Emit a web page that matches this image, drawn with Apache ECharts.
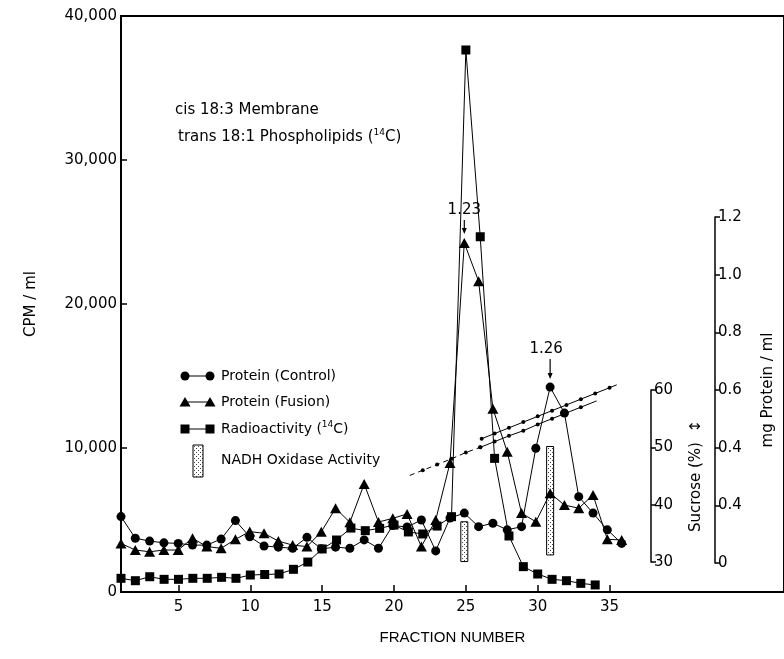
<!DOCTYPE html>
<html>
<head>
<meta charset="utf-8">
<script src="https://cdn.jsdelivr.net/npm/echarts@6/dist/echarts.min.js"></script>
<style>
  html, body { margin: 0; padding: 0; background: #fff; }
  #chart { width: 784px; height: 659px; }
</style>
</head>
<body>
<div id="chart"></div>
<script>
// Sucrose gradient fractionation: protein, radioactivity, sucrose and NADH oxidase
const fractions = [1,2,3,4,5,6,7,8,9,10,11,12,13,14,15,16,17,18,19,20,21,22,23,24,25,26,27,28,29,30,31,32,33,34,35,36];
// mg protein / ml
const proteinControl = [0.161,0.086,0.076,0.070,0.068,0.062,0.062,0.083,0.147,0.091,0.059,0.055,0.051,0.089,0.049,0.055,0.051,0.080,0.051,0.130,0.125,0.149,0.042,0.156,0.173,0.126,0.138,0.115,0.126,0.398,0.610,0.520,0.230,0.173,0.115,0.068];
const proteinFusion = [0.068,0.045,0.039,0.045,0.045,0.086,0.057,0.051,0.082,0.109,0.103,0.076,0.062,0.057,0.108,0.190,0.141,0.274,0.142,0.155,0.170,0.057,0.149,0.347,1.110,0.977,0.535,0.386,0.173,0.143,0.242,0.201,0.190,0.236,0.082,0.080];
// CPM / ml (14C)
const radioFractions = [1,2,3,4,5,6,7,8,9,10,11,12,13,14,15,16,17,18,19,20,21,22,23,24,25,26,27,28,29,30,31,32,33,34];
const radioactivity = [950,785,1060,880,880,950,950,1020,950,1180,1215,1250,1575,2080,2990,3610,4440,4260,4420,4650,4170,4030,4580,5230,37640,24670,9280,3890,1760,1250,880,785,600,490];
// Sucrose (%) gradients
const sucroseLowX = [21.1,22,23,24,25,26,27,28,29,30,31,32,33,34.1];
const sucroseLow = [45.1,46.0,47.0,48.0,49.1,50.0,51.0,52.0,52.9,54.0,55.0,56.0,57.0,58.1];
const sucroseHighX = [26.1,27,28,29,30,31,32,33,34,35,35.5];
const sucroseHigh = [51.5,52.4,53.4,54.4,55.4,56.4,57.4,58.4,59.4,60.4,60.9];
// NADH oxidase activity bands (drawn on the protein scale)
const nadhFractions = [25, 31];
const nadhLow = [0.005, 0.028];
const nadhHigh = [0.143, 0.404];
// Tick labels
const xTickValues = [5,10,15,20,25,30,35];
const cpmTickLabels = ['0','10,000','20,000','30,000','40,000'];
const proteinTickValues = [0,0.2,0.4,0.6,0.8,1.0,1.2];
const proteinTickLabels = ['0','0.4','0.4','0.6','0.8','1.0','1.2'];
const sucroseTickLabels = ['30','40','50','60'];

const FONT = 'DejaVu Sans';
const chart = echarts.init(document.getElementById('chart'), null, { renderer: 'canvas' });

function stipple() {
  const c = document.createElement('canvas');
  c.width = 4; c.height = 4;
  const g = c.getContext('2d');
  g.fillStyle = '#fff'; g.fillRect(0, 0, 4, 4);
  g.fillStyle = '#444';
  g.fillRect(0, 0, 1, 1); g.fillRect(2, 2, 1, 1);
  return c;
}
const stippleFill = { image: stipple(), repeat: 'repeat' };

const pairs = (xs, ys) => xs.map((x, i) => [x, ys[i]]);
const dotted = (xs, ys, start, end, noDot) => xs.slice(start, end).map((x, k) => {
  const i = start + k;
  return noDot.includes(i) ? { value: [x, ys[i]], symbol: 'none' } : [x, ys[i]];
});

// The frame runs off the right edge of the page, so the fraction axis ends past 47
const GRID_LEFT = 121, GRID_RIGHT_EDGE = 784;
const X_MIN = 1, X_MAX = 47.14;
const PROTEIN_AXIS_X = 718, SUCROSE_AXIS_X = 651;
const lineBase = { lineStyle: { color: '#000', width: 1 }, itemStyle: { color: '#000' }, z: 3, animation: false };

chart.setOption({
  animation: false,
  grid: [
    { left: GRID_LEFT, right: 0, top: 16, height: 576, show: true, borderColor: '#000', borderWidth: 2 },
    { left: GRID_LEFT, right: 0, top: 217, height: 346 },
    { left: GRID_LEFT, right: 0, top: 390, height: 172 }
  ],
  xAxis: [
    {
      gridIndex: 0, type: 'value', min: X_MIN, max: X_MAX,
      axisLine: { onZero: false, lineStyle: { color: '#000', width: 2 } },
      axisTick: { inside: true, length: 7, customValues: xTickValues, lineStyle: { color: '#000', width: 1.5 } },
      axisLabel: { customValues: xTickValues, margin: 8, color: '#000', fontSize: 15, fontFamily: FONT },
      splitLine: { show: false },
      name: 'FRACTION NUMBER', nameLocation: 'middle', nameGap: 38,
      nameTextStyle: { color: '#000', fontSize: 15, fontFamily: 'Liberation Sans' }
    },
    { gridIndex: 1, type: 'value', min: X_MIN, max: X_MAX, show: false },
    { gridIndex: 2, type: 'value', min: X_MIN, max: X_MAX, show: false }
  ],
  yAxis: [
    {
      gridIndex: 0, type: 'value', min: 0, max: 40000, interval: 10000,
      axisLine: { show: true, onZero: false, lineStyle: { color: '#000', width: 2 } },
      axisTick: { show: true, inside: true, length: 6, lineStyle: { color: '#000', width: 1.5 } },
      axisLabel: { margin: 4, color: '#000', fontSize: 15, fontFamily: FONT,
        formatter: v => cpmTickLabels[Math.round(v / 10000)] },
      splitLine: { show: false },
      name: 'CPM / ml', nameLocation: 'middle', nameRotate: 90, nameGap: 82,
      nameTextStyle: { color: '#000', fontSize: 15, fontFamily: FONT }
    },
    {
      gridIndex: 1, type: 'value', position: 'right', offset: -(GRID_RIGHT_EDGE - PROTEIN_AXIS_X),
      min: 0, max: 1.2, interval: 0.2,
      axisLine: { show: true, onZero: false, lineStyle: { color: '#000', width: 1.5 } },
      axisTick: { show: true, length: 5, lineStyle: { color: '#000', width: 1.5 } },
      axisLabel: { margin: 3, color: '#000', fontSize: 15, fontFamily: FONT,
        formatter: v => {
          let best = 0;
          proteinTickValues.forEach((t, i) => { if (Math.abs(t - v) < Math.abs(proteinTickValues[best] - v)) best = i; });
          return proteinTickLabels[best];
        } },
      splitLine: { show: false },
      name: 'mg Protein / ml', nameLocation: 'middle', nameRotate: 90, nameGap: 46,
      nameTextStyle: { color: '#000', fontSize: 15, fontFamily: FONT }
    },
    {
      gridIndex: 2, type: 'value', position: 'right', offset: -(GRID_RIGHT_EDGE - SUCROSE_AXIS_X),
      min: 30, max: 60, interval: 10,
      axisLine: { show: true, onZero: false, lineStyle: { color: '#000', width: 1.5 } },
      axisTick: { show: true, length: 5, lineStyle: { color: '#000', width: 1.5 } },
      axisLabel: { margin: 3, color: '#000', fontSize: 15, fontFamily: FONT,
        formatter: v => sucroseTickLabels[Math.round((v - 30) / 10)] },
      splitLine: { show: false },
      name: 'Sucrose (%)  \u2195', nameLocation: 'middle', nameRotate: 90, nameGap: 38,
      nameTextStyle: { color: '#000', fontSize: 15, fontFamily: FONT }
    }
  ],
  series: [
    {
      name: 'NADH Oxidase Activity', type: 'custom', xAxisIndex: 1, yAxisIndex: 1, z: 2,
      data: nadhFractions.map((f, i) => [f, nadhLow[i], nadhHigh[i]]),
      renderItem: (params, api) => {
        const lo = api.coord([api.value(0), api.value(1)]);
        const hi = api.coord([api.value(0), api.value(2)]);
        return { type: 'rect', shape: { x: lo[0] - 3.5, y: hi[1], width: 7, height: lo[1] - hi[1] },
          style: { fill: stippleFill, stroke: '#000', lineWidth: 1 } };
      }
    },
    Object.assign({}, lineBase, {
      name: 'Radioactivity (14C)', type: 'line', xAxisIndex: 0, yAxisIndex: 0,
      symbol: 'rect', symbolSize: 9, data: pairs(radioFractions, radioactivity)
    }),
    Object.assign({}, lineBase, {
      name: 'Protein (Control)', type: 'line', xAxisIndex: 1, yAxisIndex: 1,
      symbol: 'circle', symbolSize: 9, data: pairs(fractions, proteinControl)
    }),
    Object.assign({}, lineBase, {
      name: 'Protein (Fusion)', type: 'line', xAxisIndex: 1, yAxisIndex: 1,
      symbol: 'triangle', symbolSize: [11, 10], data: pairs(fractions, proteinFusion)
    }),
    Object.assign({}, lineBase, {
      name: 'Sucrose early', type: 'line', xAxisIndex: 2, yAxisIndex: 2, clip: false,
      symbol: 'circle', symbolSize: 4, lineStyle: { color: '#000', width: 1, type: [5, 4] },
      data: dotted(sucroseLowX, sucroseLow, 0, 6, [0])
    }),
    Object.assign({}, lineBase, {
      name: 'Sucrose low', type: 'line', xAxisIndex: 2, yAxisIndex: 2, clip: false,
      symbol: 'circle', symbolSize: 4,
      data: dotted(sucroseLowX, sucroseLow, 5, sucroseLowX.length, [sucroseLowX.length - 1])
    }),
    Object.assign({}, lineBase, {
      name: 'Sucrose high', type: 'line', xAxisIndex: 2, yAxisIndex: 2, clip: false,
      symbol: 'circle', symbolSize: 4,
      data: dotted(sucroseHighX, sucroseHigh, 0, sucroseHighX.length, [sucroseHighX.length - 1])
    })
  ]
});

// Annotations, headings and key
const txt = (x, y, text, extra) => ({
  type: 'text', x, y, silent: true,
  style: Object.assign({ text, fill: '#000', font: '15px "' + FONT + '"', textVerticalAlign: 'middle' }, extra || {})
});
const arrowDown = (x, y0, y1) => ([
  { type: 'line', shape: { x1: x, y1: y0, x2: x, y2: y1 - 3 }, style: { stroke: '#000', lineWidth: 1.2 }, silent: true },
  { type: 'polygon', shape: { points: [[x - 2.5, y1 - 6], [x + 2.5, y1 - 6], [x, y1]] }, style: { fill: '#000' }, silent: true }
]);

const p123 = chart.convertToPixel({ gridIndex: 1 }, [25, proteinFusion[24]]);
const p126 = chart.convertToPixel({ gridIndex: 1 }, [31, proteinControl[30]]);

const keyRows = [
  { y: 376, label: 'Protein (Control)', mark: 'circle' },
  { y: 402, label: 'Protein (Fusion)', mark: 'triangle' },
  { y: 429, label: 'Radioactivity ({s|14}C)', mark: 'square' }
];
const supStyle = { s: { fontSize: 9, fontFamily: FONT, verticalAlign: 'top', padding: [0, 0, 8, 0] } };
const keyEls = [];
keyRows.forEach(r => {
  keyEls.push({ type: 'line', shape: { x1: 185, y1: r.y, x2: 210, y2: r.y }, style: { stroke: '#000', lineWidth: 1 }, silent: true });
  [185, 210].forEach(x => {
    if (r.mark === 'circle') keyEls.push({ type: 'circle', shape: { cx: x, cy: r.y, r: 4.5 }, style: { fill: '#000' }, silent: true });
    if (r.mark === 'triangle') keyEls.push({ type: 'polygon', shape: { points: [[x - 5.5, r.y + 4.5], [x + 5.5, r.y + 4.5], [x, r.y - 5]] }, style: { fill: '#000' }, silent: true });
    if (r.mark === 'square') keyEls.push({ type: 'rect', shape: { x: x - 4.5, y: r.y - 4.5, width: 9, height: 9 }, style: { fill: '#000' }, silent: true });
  });
  keyEls.push(txt(221, r.y, r.label, { font: '14px "' + FONT + '"', rich: supStyle }));
});
keyEls.push({ type: 'rect', shape: { x: 193, y: 445, width: 10, height: 32 }, style: { fill: stippleFill, stroke: '#000', lineWidth: 1 }, silent: true });
keyEls.push(txt(221, 460, 'NADH Oxidase Activity', { font: '14px "' + FONT + '"' }));

chart.setOption({
  graphic: [
    txt(175, 110, 'cis 18:3 Membrane'),
    txt(178, 137, 'trans 18:1 Phospholipids ({s|14}C)', { rich: supStyle }),
    txt(p123[0], p123[1] - 33, '1.23', { textAlign: 'center' }),
    ...arrowDown(p123[0], p123[1] - 23, p123[1] - 9),
    txt(p126[0] - 4, p126[1] - 38, '1.26', { textAlign: 'center' }),
    ...arrowDown(p126[0], p126[1] - 28, p126[1] - 8),
    ...keyEls
  ]
});
</script>
</body>
</html>
